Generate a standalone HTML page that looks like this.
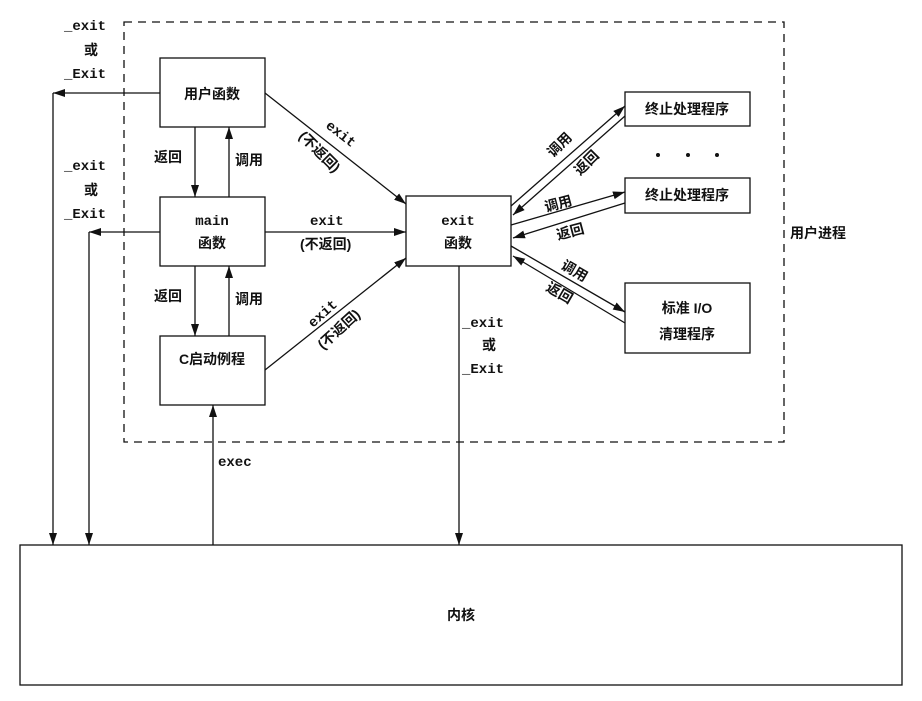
<!DOCTYPE html>
<html><head><meta charset="utf-8"><style>
body{margin:0;background:#fff}
svg text{font-family:"Liberation Sans","Noto Sans CJK SC",sans-serif;font-size:14px;font-weight:bold;fill:#111}
.m{font-family:"Liberation Mono","Noto Sans CJK SC",monospace;font-weight:bold}
</style></head><body>
<svg width="922" height="696" viewBox="0 0 922 696" xmlns="http://www.w3.org/2000/svg">
<defs><marker id="a" viewBox="0 0 12 8" refX="12" refY="4" markerWidth="12" markerHeight="8" orient="auto" markerUnits="userSpaceOnUse"><path d="M0,0L12,4L0,8z" fill="#111"/></marker></defs>
<g fill="none" stroke="#111" stroke-width="1.3">
<rect x="124" y="22" width="660" height="420" stroke-dasharray="8,6"/>
<rect x="160" y="58" width="105" height="69"/>
<rect x="160" y="197" width="105" height="69"/>
<rect x="160" y="336" width="105" height="69"/>
<rect x="406" y="196" width="105" height="70"/>
<rect x="625" y="92" width="125" height="34"/>
<rect x="625" y="178" width="125" height="35"/>
<rect x="625" y="283" width="125" height="70"/>
<rect x="20" y="545" width="882" height="140"/>
<path d="M160,93H53" marker-end="url(#a)"/><path d="M53,93V545" marker-end="url(#a)"/>
<path d="M160,232H89" marker-end="url(#a)"/><path d="M89,232V545" marker-end="url(#a)"/>
<path d="M195,127V197" marker-end="url(#a)"/><path d="M229,197V127" marker-end="url(#a)"/>
<path d="M195,266V336" marker-end="url(#a)"/><path d="M229,336V266" marker-end="url(#a)"/>
<path d="M213,545V405" marker-end="url(#a)"/>
<path d="M459,266V545" marker-end="url(#a)"/>
<path d="M265,93L406,204" marker-end="url(#a)"/>
<path d="M265,232H406" marker-end="url(#a)"/>
<path d="M265,370L406,258" marker-end="url(#a)"/>
<path d="M511,206L625,106" marker-end="url(#a)"/><path d="M625,116L513,215" marker-end="url(#a)"/>
<path d="M511,225L625,192" marker-end="url(#a)"/><path d="M625,203L513,238" marker-end="url(#a)"/>
<path d="M511,246L625,312" marker-end="url(#a)"/><path d="M625,323L513,256" marker-end="url(#a)"/>
</g>
<g fill="#111"><circle cx="658" cy="155" r="2"/><circle cx="688" cy="155" r="2"/><circle cx="717" cy="155" r="2"/></g>
<text x="212" y="99" text-anchor="middle">用户函数</text>
<text class="m" x="212" y="225" text-anchor="middle">main</text>
<text x="212" y="248" text-anchor="middle">函数</text>
<text x="212" y="364" text-anchor="middle">C启动例程</text>
<text class="m" x="458" y="225" text-anchor="middle">exit</text>
<text x="458" y="248" text-anchor="middle">函数</text>
<text x="687" y="114" text-anchor="middle">终止处理程序</text>
<text x="687" y="200" text-anchor="middle">终止处理程序</text>
<text x="687" y="313" text-anchor="middle">标准 I/O</text>
<text x="687" y="339" text-anchor="middle">清理程序</text>
<text x="461" y="620" text-anchor="middle">内核</text>
<text x="790" y="238">用户进程</text>
<text class="m" x="64" y="30">_exit</text><text x="84" y="55">或</text><text class="m" x="64" y="78">_Exit</text>
<text class="m" x="64" y="170">_exit</text><text x="84" y="195">或</text><text class="m" x="64" y="218">_Exit</text>
<text class="m" x="462" y="327">_exit</text><text x="482" y="350">或</text><text class="m" x="462" y="373">_Exit</text>
<text x="154" y="162">返回</text><text x="235" y="165">调用</text>
<text x="154" y="301">返回</text><text x="235" y="304">调用</text>
<text class="m" x="218" y="466">exec</text>
<text class="m" x="310" y="225">exit</text><text x="300" y="249">(不返回)</text>
<text class="m" transform="translate(325,127) rotate(38)">exit</text>
<text transform="translate(298,137) rotate(45)">(不返回)</text>
<text class="m" transform="translate(313,328) rotate(-42)">exit</text>
<text transform="translate(323,350) rotate(-42)">(不返回)</text>
<text transform="translate(553,158) rotate(-45)">调用</text>
<text transform="translate(580,176) rotate(-45)">返回</text>
<text transform="translate(546,212) rotate(-15)">调用</text>
<text transform="translate(558,240) rotate(-15)">返回</text>
<text transform="translate(560,268) rotate(30)">调用</text>
<text transform="translate(545,290) rotate(30)">返回</text>
</svg>
</body></html>
